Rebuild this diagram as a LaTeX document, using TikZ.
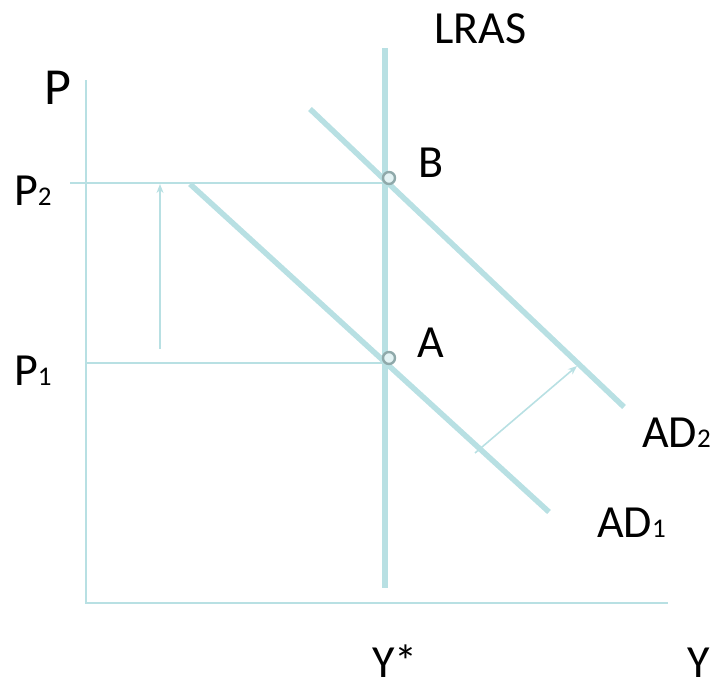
\documentclass[tikz,border=0pt]{standalone}
\usepackage{fontspec}
\setmainfont{Carlito}
\usetikzlibrary{arrows.meta}
\definecolor{curve}{HTML}{B8E0E3}
\definecolor{dotgray}{HTML}{8FA9AA}
\tikzset{
  thinline/.style={draw=curve, line width=1.6pt},
  thickline/.style={draw=curve, line width=5.5pt},
  shiftarrow/.style={draw=curve, line width=1.6pt, -{Stealth[length=9pt,width=7pt]}},
  lbl/.style={anchor=base west, inner sep=0pt, font=\fontsize{46}{46}\selectfont, text=black},
  eqdot/.style={circle, draw=dotgray, fill=curve!40, line width=2.4pt, minimum size=12pt, inner sep=0pt}
}
\newcommand{\sbs}[1]{{\fontsize{27}{27}\selectfont #1}}
\begin{document}
\begin{tikzpicture}[x=1pt,y=-1pt]
\useasboundingbox (0,0) rectangle (717,688);
% axes
\coordinate (ytop) at (86,80);
\coordinate (origin) at (86,603);
\coordinate (xend) at (668,603);
\draw[thinline] (ytop) -- (origin) -- (xend);
% price lines
\coordinate (p2l) at (70,183);
\coordinate (p2r) at (385,183);
\coordinate (p1l) at (86,363);
\coordinate (p1r) at (385,363);
\draw[thinline] (p2l) -- (p2r);
\draw[thinline] (p1l) -- (p1r);
% LRAS
\coordinate (lrast) at (385,48);
\coordinate (lrasb) at (385,588);
\draw[thickline] (lrast) -- (lrasb);
% AD curves
\coordinate (ad1s) at (190,184);
\coordinate (ad1e) at (549,512);
\coordinate (ad2s) at (310,109);
\coordinate (ad2e) at (624,407);
\draw[thickline] (ad1s) -- (ad1e);
\draw[thickline] (ad2s) -- (ad2e);
% arrows
\coordinate (va1) at (160,349);
\coordinate (va2) at (160,184);
\draw[shiftarrow] (va1) -- (va2);
\coordinate (da1) at (475,453);
\coordinate (da2) at (577,366);
\draw[shiftarrow] (da1) -- (da2);
% equilibrium points
\node[eqdot] (ptB) at (389,178) {};
\node[eqdot] (ptA) at (389,358) {};
% labels
\node[lbl] (lLRAS) at (434,43) {LRAS};
\node[lbl, font=\fontsize{52}{52}\selectfont] (lP) at (44,104) {P};
\node[lbl] (lP2) at (14,205) {P\sbs{2}};
\node[lbl] (lP1) at (14,385) {P\sbs{1}};
\node[lbl] (lB) at (418,177) {B};
\node[lbl] (lA) at (417,357) {A};
\node[lbl] (lAD2) at (642,447) {AD\sbs{2}};
\node[lbl] (lAD1) at (597,537) {AD\sbs{1}};
\node[lbl] (lYs) at (372,677) {Y*};
\node[lbl] (lY) at (687,677) {Y};
\end{tikzpicture}
\end{document}
